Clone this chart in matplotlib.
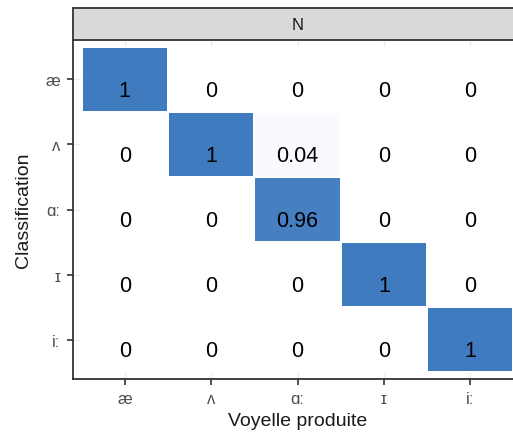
import numpy as np
import matplotlib
matplotlib.use("Agg")
from matplotlib import pyplot as plt
from matplotlib.colors import LinearSegmentedColormap

plt.rcParams['font.family'] = ['Liberation Sans', 'DejaVu Sans']

# vowels (rows = classification, columns = produced vowel)
vowels = ['æ', 'ʌ', 'ɑː', 'ɪ', 'iː']
props = np.array([
    [1, 0, 0,    0, 0],
    [0, 1, 0.04, 0, 0],
    [0, 0, 0.96, 0, 0],
    [0, 0, 0,    1, 0],
    [0, 0, 0,    0, 1],
])
facet = 'N'

cmap = LinearSegmentedColormap.from_list('wb', ['#FFFFFF', '#407BC0'])

W, H = 513, 435
fig = plt.figure(figsize=(W / 100, H / 100), dpi=100)

# panel (extends slightly past the right edge like the original crop)
L, R, T, B = 73, 522, 41, 380
ax = fig.add_axes([L / W, 1 - B / H, (R - L) / W, (B - T) / H])
x = np.arange(1, 6)
ax.set_xlim(0.4, 5.6)
ax.set_ylim(5.6, 0.4)
for v in x:
    ax.axvline(v, color='#EBEBEB', lw=1, zorder=0)
    ax.axhline(v, color='#EBEBEB', lw=1, zorder=0)

edges = np.arange(0.5, 6, 1)
ax.pcolormesh(edges, edges, props, cmap=cmap, vmin=0, vmax=1,
              edgecolors='white', linewidth=1.2, zorder=1)
for i in range(5):
    for j in range(5):
        txt = '%g' % props[i, j]
        ax.text(x[j], x[i] + 0.17, txt, ha='center', va='center',
                fontsize=15.5, color='black', zorder=3)

ax.set_xticks(x)
ax.set_xticklabels(vowels)
ax.set_yticks(x)
ax.set_yticklabels(vowels)
ax.tick_params(colors='#333333', labelcolor='#4D4D4D', labelsize=12,
               length=4, width=1.2, pad=5)
for s in ['top', 'right']:
    ax.spines[s].set_visible(False)
for s in ['left', 'bottom']:
    ax.spines[s].set_color('#333333')
    ax.spines[s].set_linewidth(1.3)
ax.set_xlabel('Voyelle produite', fontsize=14, color='#1A1A1A', labelpad=4)
ax.set_ylabel('Classification', fontsize=14, color='#1A1A1A', labelpad=10)

# facet strip
st = fig.add_axes([L / W, 1 - T / H, (R - L) / W, (T - 9) / H])
st.set_facecolor('#D9D9D9')
st.set_xticks([])
st.set_yticks([])
st.spines['right'].set_visible(False)
for s in ['top', 'bottom', 'left']:
    st.spines[s].set_color('#333333')
    st.spines[s].set_linewidth(1.3)
st.text(0.5, 0.5, facet, ha='center', va='center', fontsize=12,
        color='#1A1A1A', transform=st.transAxes)

fig.savefig('out.png', dpi=100)
